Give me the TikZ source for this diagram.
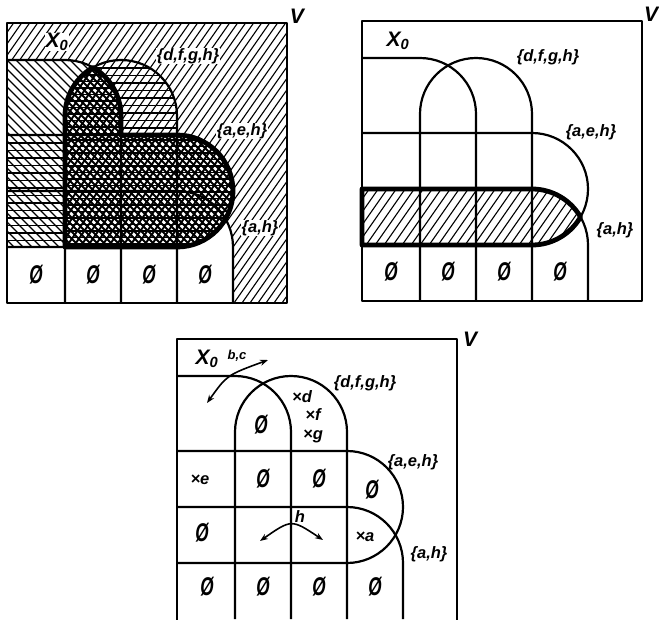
\documentclass[tikz,border=0pt]{standalone}
\usepackage{fontspec}
\setmainfont{Liberation Sans}
\usepackage{graphicx}
\usetikzlibrary{arrows.meta}

\tikzset{
  thinline/.style={line width=2.2pt, line join=round},
  boldline/.style={line width=4.8pt, line join=round},
  lbl/.style={font=\bfseries\itshape\fontsize{16.5}{18}\selectfont, inner sep=0.5pt},
  lblw/.style={lbl, fill=white},
  bigl/.style={font=\bfseries\itshape\fontsize{21}{23}\selectfont, inner sep=0.5pt},
  esn/.style={font=\bfseries\itshape\fontsize{19}{21}\selectfont, inner sep=0pt},
  arr/.style={line width=1.6pt, {Stealth[length=8pt,width=6pt]}-{Stealth[length=8pt,width=6pt]}},
}
\newcommand{\es}{\scalebox{0.9}[1.35]{Ø}}
% hatching helpers (local panel coordinates, y downwards)
\newcommand{\hNE}[2]{\foreach \i in {0,...,72}{\pgfmathsetmacro\hk{\i*#1}\draw[line width=#2] (\hk,-2) -- ++(-204,292);}}
\newcommand{\hNW}[2]{\foreach \i in {0,...,95}{\pgfmathsetmacro\hk{-300+\i*#1}\draw[line width=#2] (\hk,-2) -- ++(292,292);}}
\newcommand{\hH}[2]{\foreach \i in {0,...,46}{\pgfmathsetmacro\hk{\i*#1}\draw[line width=#2] (-2,\hk) -- (282,\hk);}}
% regions
\def\rgA{(0,37) -- (58,37) arc[start angle=270,end angle=300,radius=56] arc[start angle=240,end angle=180,radius=56] -- (58,112) -- (0,112) -- cycle}
\def\rgB{(0,112) rectangle (58,224)}
\def\rgC{(58,224) -- (58,93) arc[start angle=180,end angle=240,radius=56] arc[start angle=300,end angle=360,radius=56] -- (114,112) -- (170,112) arc[start angle=-90,end angle=90,radius=56] -- cycle}
\def\rgD{(86,44.503) arc[start angle=240,end angle=360,radius=56] -- (170,112) -- (114,112) -- (114,93) arc[start angle=0,end angle=-60,radius=56] -- cycle}
\def\rgE{(0,280) -- (0,224) -- (170,224) arc[start angle=90,end angle=30,radius=56] arc[start angle=-30,end angle=0,radius=56] -- (226,280) -- cycle}
\def\rgS{(0,168) -- (170,168) arc[start angle=-90,end angle=-30,radius=56] arc[start angle=30,end angle=90,radius=56] -- (0,224) -- cycle}
% structure lines of one panel
\newcommand{\panelgrid}{%
  \draw[thinline] (58,280) -- (58,93) arc[start angle=180,end angle=360,radius=56] -- (170,280);
  \draw[thinline] (0,37) -- (58,37) arc[start angle=270,end angle=360,radius=56] -- (114,280);
  \draw[thinline] (0,112) -- (170,112) arc[start angle=-90,end angle=90,radius=56] -- (0,224);
  \draw[thinline] (0,168) -- (170,168) arc[start angle=-90,end angle=0,radius=56] -- (226,280);
}

\begin{document}
\begin{tikzpicture}[x=1pt,y=-1pt]
\useasboundingbox[fill=white] (0,0) rectangle (659,619);

% ================= top-left panel =================
\begin{scope}[shift={(7,23)}]
  \begin{scope}\clip (0,0) rectangle (280,280); \hNE{8}{1.1pt}\end{scope}
  \fill[white] \rgA; \fill[white] \rgB; \fill[white] \rgC; \fill[white] \rgD; \fill[white] \rgE;
  \begin{scope}\clip \rgA; \hNW{9}{1.2pt}\end{scope}
  \begin{scope}\clip \rgB; \hNW{9}{1.2pt}\hH{7.5}{1.3pt}\end{scope}
  \begin{scope}\clip \rgD; \hNE{8}{1.1pt}\hH{7.5}{1.3pt}\end{scope}
  \begin{scope}\clip \rgC; \hNE{7}{1.9pt}\hNW{7}{1.9pt}\hH{6.5}{1.9pt}\end{scope}
  \panelgrid
  \draw[boldline] \rgC;
  \draw[thinline] (0,0) rectangle (280,280);
  \node[bigl,fill=white] (tlX) at (50,19) {X\textsubscript{0}};
  \node[lblw] (tlD) at (181,33) {\{d,f,g,h\}};
  \node[lblw] (tlA) at (235,108) {\{a,e,h\}};
  \node[lblw] (tlH) at (253,205) {\{a,h\}};
  \node[esn] (tlE1) at (29,252) {\es};
  \node[esn] (tlE2) at (86,252) {\es};
  \node[esn] (tlE3) at (142,252) {\es};
  \node[esn] (tlE4) at (198,252) {\es};
  \node[bigl] (tlV) at (290,-7) {V};
\end{scope}

% ================= top-right panel =================
\begin{scope}[shift={(362,21)}]
  \begin{scope}\clip \rgS; \hNE{9}{1.1pt}\end{scope}
  \panelgrid
  \draw[boldline] \rgS;
  \draw[thinline] (0,0) rectangle (280,280);
  \node[bigl] (trX) at (36,20) {X\textsubscript{0}};
  \node[lbl] (trD) at (186,36) {\{d,f,g,h\}};
  \node[lbl] (trA) at (229,111) {\{a,e,h\}};
  \node[lbl] (trH) at (253,209) {\{a,h\}};
  \node[esn] (trE1) at (29,251) {\es};
  \node[esn] (trE2) at (86,251) {\es};
  \node[esn] (trE3) at (142,251) {\es};
  \node[esn] (trE4) at (198,251) {\es};
  \node[bigl] (trV) at (289,-7) {V};
\end{scope}

% ================= bottom panel =================
\begin{scope}[shift={(177,339)}]
  \panelgrid
  \draw[thinline] (0,282) -- (0,0) -- (280,0) -- (280,282);
  \node[bigl] (bX) at (30,20) {X\textsubscript{0}};
  \node[lbl,font=\bfseries\itshape\fontsize{13}{15}\selectfont] (bBC) at (60,17) {b,c};
  \node[lbl] (bD) at (188,44) {\{d,f,g,h\}};
  \node[lbl] (bA) at (236,123) {\{a,e,h\}};
  \node[lbl] (bH) at (252,215) {\{a,h\}};
  \node[esn] (bE0) at (84,86) {\es};
  \node[lbl] (bxd) at (125,58) {×d};
  \node[lbl] (bxf) at (136,76) {×f};
  \node[lbl] (bxg) at (136,97) {×g};
  \node[lbl] (bxe) at (23,141) {×e};
  \node[esn] (bE1) at (86,140) {\es};
  \node[esn] (bE2) at (142,140) {\es};
  \node[esn] (bE3) at (195,151) {\es};
  \node[esn] (bE4) at (25,194) {\es};
  \node[lbl] (bh) at (123,178) {h};
  \node[lbl] (bxa) at (188,198) {×a};
  \node[esn] (bE5) at (30,248) {\es};
  \node[esn] (bE6) at (86,248) {\es};
  \node[esn] (bE7) at (142,248) {\es};
  \node[esn] (bE8) at (198,248) {\es};
  \node[bigl] (bV) at (293,0) {V};
  \coordinate (bc1) at (30,64);
  \coordinate (bc2) at (91,21);
  \draw[arr] (bc1) .. controls (50,36) .. (bc2);
  \coordinate (h1) at (83,202);
  \coordinate (h2) at (146,201);
  \draw[arr] (h1) .. controls (114.5,180) .. (h2);
\end{scope}
\end{tikzpicture}
\end{document}
